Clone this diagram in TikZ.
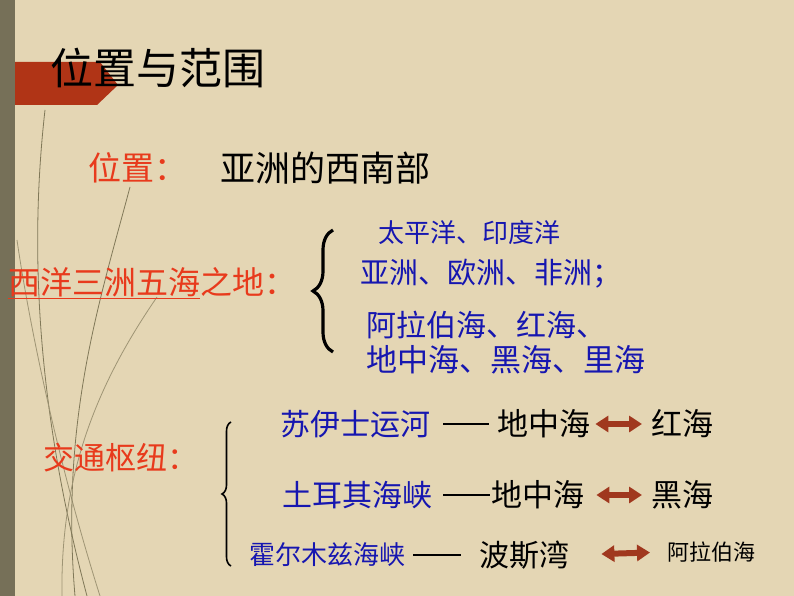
\documentclass[tikz,border=0pt]{standalone}
\usepackage{fontspec}
\newfontfamily\cjk{Noto Sans CJK SC}
\usetikzlibrary{decorations.pathreplacing,arrows.meta}
\definecolor{paper}{RGB}{228,214,180}
\definecolor{barcol}{RGB}{118,112,88}
\definecolor{tabred}{RGB}{176,52,22}
\definecolor{hotred}{RGB}{232,58,28}
\definecolor{seablue}{RGB}{22,22,176}
\definecolor{arrowcol}{RGB}{160,56,30}
\definecolor{reed}{RGB}{128,120,88}
\tikzset{
  lbl/.style={inner sep=0pt, anchor=west, font=\cjk\fontsize{#1}{#1}\selectfont},
  redlbl/.style={lbl=#1, text=hotred},
  bluelbl/.style={lbl=#1, text=seablue},
  blacklbl/.style={lbl=#1, text=black},
  dashline/.style={line width=2.6pt},
  seaarrow/.style={arrowcol, line width=6pt,
    {Triangle[width=16pt,length=13pt]}-{Triangle[width=16pt,length=13pt]}},
  bigbrace/.style={decorate, decoration={brace,amplitude=#1}}
}
\begin{document}
\begin{tikzpicture}[x=1pt,y=-1pt]
  % background, side bar and title tab
  \fill[paper] (0,0) rectangle (794,596);
  \useasboundingbox (0,0) rectangle (794,596);
  \draw[reed, line width=0.8pt] (45,110) .. controls (28,260) and (40,420) .. (87,596);
  \draw[reed!70!paper, line width=0.8pt] (17,240) .. controls (30,330) and (60,470) .. (100,596);
  \draw[reed, line width=0.8pt] (130,187) .. controls (100,300) and (60,420) .. (75,596);
  \draw[reed!70!paper, line width=0.8pt] (157,297) .. controls (100,380) and (60,470) .. (62,596);
  \fill[tabred] (0,62) -- (100,62) -- (118,85) -- (97,105) -- (0,105) -- cycle;
  \fill[barcol] (0,0) rectangle (15,596);

  \node[blacklbl=43] (title) at (50,68) {位置与范围};

  % position
  \node[redlbl=33] (weizhi) at (88,168) {位置：};
  \node[blacklbl=35] (xinan) at (220,168) {亚洲的西南部};

  % two oceans, three continents, five seas
  \node[redlbl=32] (xiyang) at (8,283) {\underline{西洋三洲五海}之地：};
  \draw[bigbrace=20pt, line width=3.2pt] (333,352) -- (333,230);
  \node[bluelbl=26] (yang) at (378,233) {太平洋、印度洋};
  \node[bluelbl=29] (zhou) at (360,274) {亚洲、欧洲、非洲；};
  \node[bluelbl=30] (hai1) at (366,325) {阿拉伯海、红海、};
  \node[bluelbl=31] (hai2) at (366,360) {地中海、黑海、里海};

  % traffic hubs
  \node[redlbl=31] (jiaotong) at (43,458) {交通枢纽：};
  \draw[bigbrace=9pt, line width=1.6pt] (231,566) -- (231,422);

  \node[bluelbl=30] (suyishi) at (280,424) {苏伊士运河};
  \node[blacklbl=31] (dzh1) at (497,424) {地中海};
  \node[blacklbl=31] (honghai) at (651,424) {红海};
  \draw[dashline] (suyishi.east) ++(13,0) -- ([xshift=-8pt]dzh1.west);
  \draw[seaarrow, shorten <=5pt, shorten >=9pt] (dzh1.east) -- (honghai.west);

  \node[bluelbl=30] (tuerqi) at (282,495) {土耳其海峡};
  \node[blacklbl=31] (dzh2) at (491,495) {地中海};
  \node[blacklbl=31] (heihai) at (651,495) {黑海};
  \draw[dashline, shorten <=11pt, shorten >=1pt] (tuerqi.east) -- (dzh2.west);
  \draw[seaarrow, shorten <=12pt, shorten >=9pt] (dzh2.east) -- (heihai.west);

  \node[bluelbl=26] (huoermuzi) at (249,555) {霍尔木兹海峡};
  \node[blacklbl=30] (bosi) at (479,555) {波斯湾};
  \node[blacklbl=22] (alabo) at (667,552) {阿拉伯海};
  \draw[dashline, shorten <=8pt, shorten >=18pt] (huoermuzi.east) -- (bosi.west);
  \draw[seaarrow, shorten <=32pt, shorten >=17pt] (bosi.east) -- (alabo.west);
\end{tikzpicture}
\end{document}
